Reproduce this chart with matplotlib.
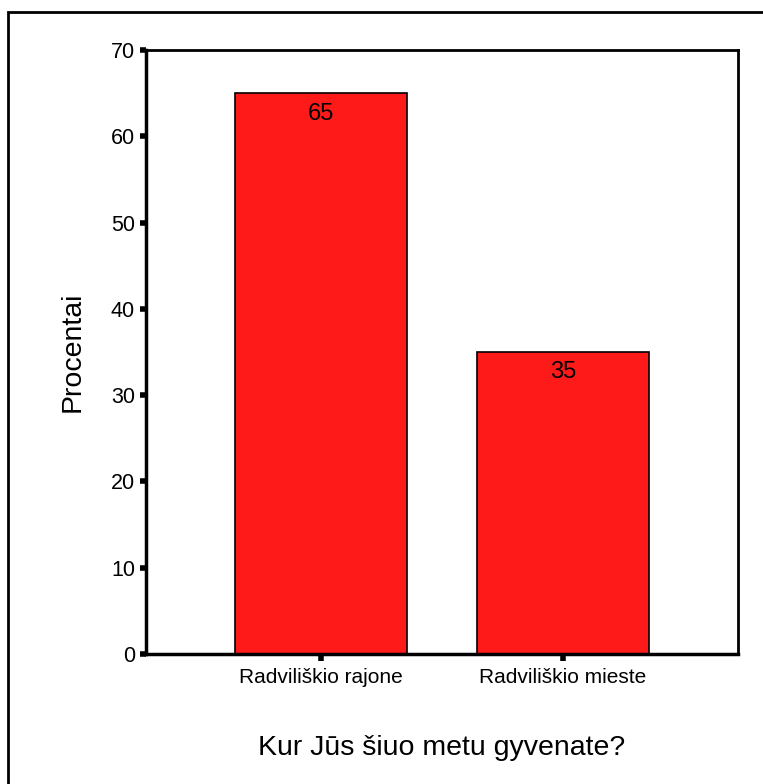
import matplotlib
matplotlib.use("Agg")
import matplotlib.pyplot as plt
from matplotlib.patches import Rectangle

categories = ["Radviliškio rajone", "Radviliškio mieste"]
values = [65, 35]
yticks = [0, 10, 20, 30, 40, 50, 60, 70]

plt.rcParams['font.family'] = ['Liberation Sans', 'DejaVu Sans']

W, H = 763, 784
fig = plt.figure(figsize=(W/100, H/100), dpi=100)
ax = fig.add_axes([146/W, 1-654/H, (738-146)/W, (654-50)/H])

x = list(range(len(categories)))
bars = ax.bar(x, values, width=0.71, color='#ff1a1a', edgecolor='black', linewidth=1.2, zorder=2)
for xi, v in zip(x, values):
    ax.text(xi, v - 1.1, f"{v}", ha='center', va='top', fontsize=17, zorder=3)

ax.set_xlim(-0.723, 1.723)
ax.set_ylim(0, 70)
ax.set_yticks(yticks)
ax.set_yticklabels([str(t) for t in yticks], fontsize=15.5)
ax.set_xticks(x)
ax.set_xticklabels(categories, fontsize=15)
ax.tick_params(axis='y', direction='out', length=4, width=4, pad=4)
ax.tick_params(axis='x', direction='out', length=5, width=4, pad=5)

for side in ['left', 'bottom']:
    ax.spines[side].set_linewidth(2.5)
for side in ['top', 'right']:
    ax.spines[side].set_linewidth(2.0)

ax.set_ylabel("Procentai", fontsize=20.5, labelpad=18)
fig.text(442/W, 1-748/H, "Kur Jūs šiuo metu gyvenate?", ha='center', va='center', fontsize=20.5)

border = Rectangle((8/W, -0.1), 1.2, 1-12/H+0.1, transform=fig.transFigure,
                   fill=False, edgecolor='black', linewidth=2, zorder=0)
fig.patches.append(border)

fig.savefig("out.png", dpi=100)
